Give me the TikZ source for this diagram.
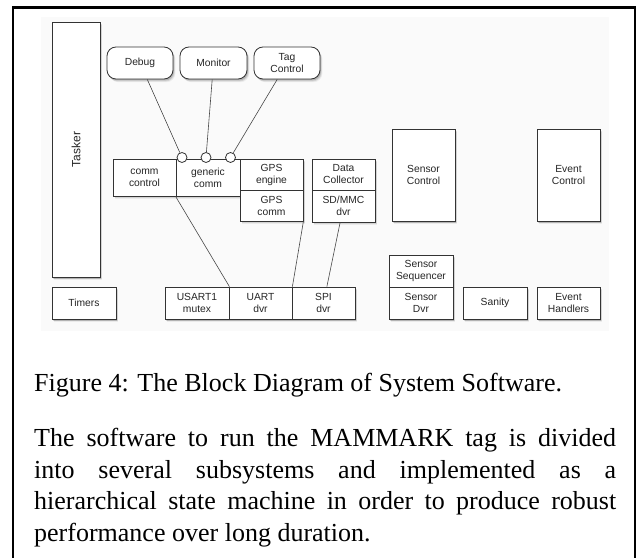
\documentclass[tikz,border=0pt]{standalone}
\usepackage{fontspec}
\setmainfont{Liberation Serif}
\newfontfamily\diagfont{Liberation Sans}
\usetikzlibrary{shadows,calc}
\definecolor{edge}{HTML}{333333}
\definecolor{panel}{HTML}{FAFAFA}
\tikzset{
  blk/.style={draw=edge, line width=0.8bp, fill=white, inner sep=0pt, align=center,
    font=\diagfont\fontsize{10.3bp}{12bp}\selectfont, text=black!85,
    drop shadow={shadow xshift=2.4bp, shadow yshift=-3.2bp, opacity=0.06, fill=black},
    drop shadow={shadow xshift=1.7bp, shadow yshift=-2.4bp, opacity=0.10, fill=black},
    drop shadow={shadow xshift=1.0bp, shadow yshift=-1.5bp, opacity=0.15, fill=black}},
  rblk/.style={blk, rounded corners=9bp},
  port/.style={circle, draw=edge, line width=0.8bp, fill=white, minimum size=10bp, inner sep=0pt},
  wire/.style={draw=edge!90, line width=0.6bp},
}
\begin{document}
\begin{tikzpicture}[x=1bp, y=-1bp]
\useasboundingbox (0,0) rectangle (638,558);
\fill[white] (0,0) rectangle (638,558);
% outer frame (open at bottom)
\draw[line width=2.5bp, line cap=rect] (13,558) -- (13,7.5) -- (635,7.5) -- (635,558);
% light panel behind the diagram
\fill[panel] (41,17) rectangle (609,331);

% boxes
\node[blk, minimum width=48bp, minimum height=255bp] (tasker) at (76,149.5)
  {\rotatebox{90}{\fontsize{12bp}{14bp}\selectfont Tasker}};
\node[blk, minimum width=64bp, minimum height=32bp] (timers) at (84,303) {Timers};

\node[rblk, minimum width=66bp, minimum height=32bp] (debug) at (140,63) {Debug};
\node[rblk, minimum width=67bp, minimum height=32bp] (monitor) at (213.5,63) {Monitor};
\node[rblk, minimum width=66bp, minimum height=32bp] (tagctl) at (287,63) {Tag\\Control};

\node[blk, minimum width=63bp, minimum height=37bp] (commctl) at (144.5,177.5) {comm\\control};
\node[blk, minimum width=64bp, minimum height=37bp] (generic) at (208,177.5) {generic\\comm};
\node[blk, minimum width=63bp, minimum height=31bp] (gpseng) at (271.5,174.5) {GPS\\engine};
\node[blk, minimum width=63bp, minimum height=31bp] (gpscomm) at (271.5,205.5) {GPS\\comm};
\node[blk, minimum width=63bp, minimum height=31bp] (datacol) at (343.5,174.5) {Data\\Collector};
\node[blk, minimum width=63bp, minimum height=32bp] (sdmmc) at (343.5,206) {SD/MMC\\dvr};
\node[blk, minimum width=63bp, minimum height=92bp] (sensctl) at (423.5,175) {Sensor\\Control};
\node[blk, minimum width=63bp, minimum height=92bp] (evctl) at (568.5,175) {Event\\Control};

\node[blk, minimum width=64bp, minimum height=32bp] (sensseq) at (421,271) {Sensor\\Sequencer};
\node[blk, minimum width=64bp, minimum height=32bp] (sensdvr) at (421,303) {Sensor\\Dvr};
\node[blk, minimum width=64bp, minimum height=32bp] (sanity) at (495,303) {Sanity};
\node[blk, minimum width=63bp, minimum height=32bp] (evhand) at (568.5,303) {Event\\Handlers};

\node[blk, minimum width=64bp, minimum height=32bp] (usart) at (197,303) {USART1\\mutex};
\node[blk, minimum width=63bp, minimum height=32bp] (uart) at (260.5,303) {UART\\dvr};
\node[blk, minimum width=63bp, minimum height=32bp] (spi) at (323.5,303) {SPI\\dvr};

% ports on generic comm
\node[port] (p1) at (182,157.5) {};
\node[port] (p2) at (206,157.5) {};
\node[port] (p3) at (230.5,157.5) {};

% connectors
\draw[wire] (p1) -- (debug);
\draw[wire] (p2) -- (monitor);
\draw[wire] (p3) -- (tagctl);
\draw[wire] (generic.south west) -- (usart.north east);
\draw[wire] (gpscomm.south east) -- (uart.north east);
\draw[wire] (sdmmc) -- (spi);

% caption and text
\node[anchor=base west, inner sep=0pt, font=\fontsize{26bp}{30bp}\selectfont] (cap) at (34,391)
  {Figure 4: The Block Diagram of System Software.};
\node[anchor=north west, inner sep=0pt, text width=582bp, align=justify,
  font=\fontsize{26bp}{31.6bp}\selectfont] (body) at (34,428)
  {The software to run the MAMMARK tag is divided\linebreak
   into several subsystems and implemented as a\linebreak
   hierarchical state machine in order to produce robust\linebreak
   performance over long duration.};
\end{tikzpicture}
\end{document}
